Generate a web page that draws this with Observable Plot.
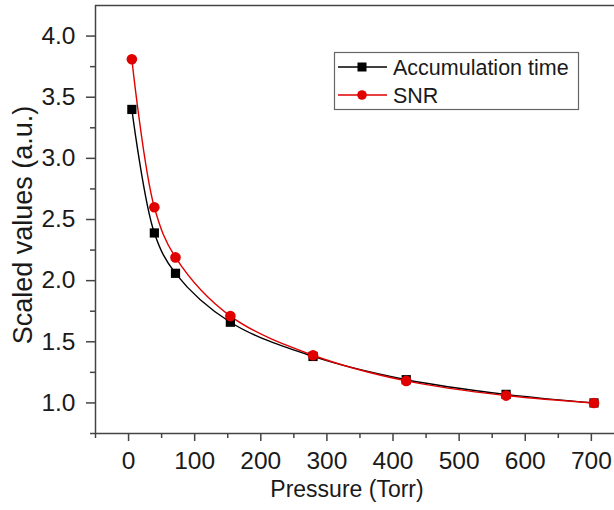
<!DOCTYPE html>
<html><head><meta charset="utf-8">
<script src="https://cdn.jsdelivr.net/npm/d3@7"></script>
<script src="https://cdn.jsdelivr.net/npm/@observablehq/plot@0.6"></script>
<style>
body{margin:0;background:#fff;font-family:"Liberation Sans",Arial,sans-serif;}
</style></head><body><div id="chart"></div>
<script>
const pressure = [5, 39, 71, 154, 279, 420, 571, 704];
const accumulationTime = [3.40, 2.39, 2.06, 1.66, 1.38, 1.19, 1.07, 1.00];
const snr = [3.81, 2.60, 2.19, 1.71, 1.39, 1.18, 1.06, 1.00];
const xTicks = [0, 100, 200, 300, 400, 500, 600, 700];
const xMinor = [-50, 50, 150, 250, 350, 450, 550, 650];
const yTicks = [1.0, 1.5, 2.0, 2.5, 3.0, 3.5, 4.0];
const yMinor = [0.75, 1.25, 1.75, 2.25, 2.75, 3.25, 3.75];
const seriesNames = ["Accumulation time", "SNR"];
const seriesColors = ["#000000", "#e00000"];
const xLabel = "Pressure (Torr)";
const yLabel = "Scaled values (a.u.)";

const acc = pressure.map((p, i) => ({x: p, y: accumulationTime[i]}));
const sn = pressure.map((p, i) => ({x: p, y: snr[i]}));
const axisColor = "#444";
const textColor = "#1a1a1a";
const tickFont = 24.5;

const chart = Plot.plot({
  width: 614, height: 510,
  marginLeft: 95, marginRight: 0, marginTop: 5, marginBottom: 77,
  style: {fontFamily: "Liberation Sans, Arial, sans-serif", fontSize: tickFont + "px", color: textColor, background: "#fff"},
  x: {domain: [-50, 735]},
  y: {domain: [0.75, 4.25]},
  marks: [
    Plot.ruleX([-50], {stroke: axisColor, strokeWidth: 1.5}),
    Plot.ruleY([0.75], {stroke: axisColor, strokeWidth: 1.5}),
    Plot.ruleY([4.25], {stroke: axisColor, strokeWidth: 1.5}),
    Plot.axisX({ticks: xTicks, tickSize: 8, tickPadding: 10, stroke: axisColor, strokeWidth: 1.5, tickFormat: d3.format("d"), fill: textColor, fontSize: tickFont, label: null}),
    Plot.axisX({ticks: xMinor, tickSize: 5, text: null, stroke: axisColor, strokeWidth: 1.5, label: null}),
    Plot.axisY({ticks: yTicks, tickSize: 9, tickPadding: 11, stroke: axisColor, strokeWidth: 1.5, tickFormat: d3.format(".1f"), fill: textColor, fontSize: tickFont, label: null}),
    Plot.axisY({ticks: yMinor, tickSize: 5, text: null, stroke: axisColor, strokeWidth: 1.5, label: null}),
    Plot.line(acc, {x: "x", y: "y", curve: "catmull-rom", stroke: seriesColors[0], strokeWidth: 1.4}),
    Plot.line(sn, {x: "x", y: "y", curve: "catmull-rom", stroke: seriesColors[1], strokeWidth: 1.4}),
    Plot.dot(acc, {x: "x", y: "y", symbol: "square", r: 5.2, fill: seriesColors[0], stroke: null}),
    Plot.dot(sn, {x: "x", y: "y", symbol: "circle", r: 5.3, fill: seriesColors[1], stroke: null}),
    Plot.text([xLabel], {frameAnchor: "bottom", dx: -8, dy: 63, fontSize: 23, fill: textColor})
  ]
});

const svg = d3.select(chart);
svg.selectAll('g[aria-label$="tick label"]').attr("font-size", tickFont).style("font-size", tickFont + "px");

// y label
svg.append("text").attr("transform", "translate(23,225) rotate(-90)")
  .attr("text-anchor", "middle").attr("dy", "0.35em")
  .attr("font-size", 27).attr("fill", textColor).text(yLabel);

// legend
const lg = svg.append("g").attr("text-anchor", "start");
lg.append("rect").attr("x", 334.5).attr("y", 52.5).attr("width", 244).attr("height", 57)
  .attr("fill", "#fff").attr("stroke", "#666").attr("stroke-width", 1.2);
seriesNames.forEach((name, i) => {
  const y = 67 + i * 28;
  lg.append("line").attr("x1", 338).attr("x2", 387).attr("y1", y).attr("y2", y)
    .attr("stroke", seriesColors[i]).attr("stroke-width", 1.4);
  if (i === 0) {
    lg.append("rect").attr("x", 357.5).attr("y", y - 4.5).attr("width", 9).attr("height", 9).attr("fill", seriesColors[i]);
  } else {
    lg.append("circle").attr("cx", 362).attr("cy", y).attr("r", 4.8).attr("fill", seriesColors[i]);
  }
  lg.append("text").attr("x", 393).attr("y", y).attr("dy", "0.35em")
    .attr("font-size", 21.5).attr("fill", textColor).text(name);
});

document.getElementById("chart").appendChild(chart);
</script></body></html>
